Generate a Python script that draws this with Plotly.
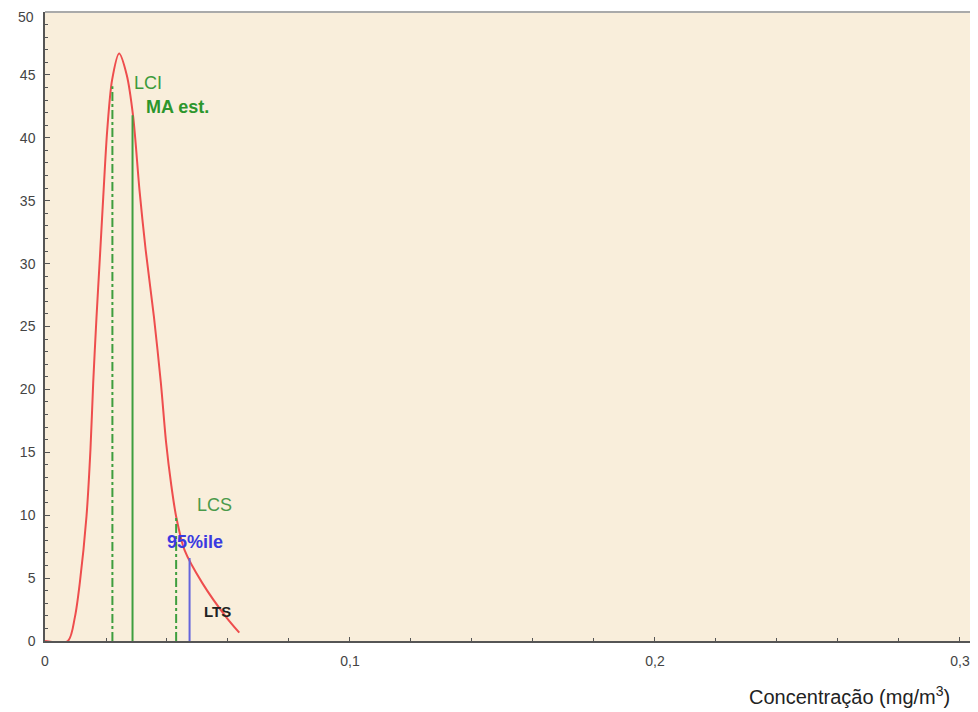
import plotly.graph_objects as go

# Density curve
curve_x = [0.0, 0.0075, 0.0098, 0.0114, 0.0136, 0.0149, 0.0158, 0.0169, 0.0180, 0.0191,
           0.0204, 0.0220, 0.0243, 0.0268, 0.0289, 0.0310, 0.0330, 0.0357, 0.0380, 0.0397,
           0.0414, 0.0430, 0.0458, 0.0516, 0.0594, 0.0637]
curve_y = [0.0, 0.0, 1.9, 4.6, 9.9, 15.2, 20.5, 25.8, 30.5, 35.3,
           40.6, 44.6, 46.7, 45.0, 41.7, 35.8, 31.1, 25.8, 20.5, 15.8,
           12.4, 9.9, 7.2, 4.6, 1.9, 0.66]

# Marker lines
marker_names = ["LCI", "MA est.", "LCS", "95%ile"]
marker_x = [0.0221, 0.0287, 0.0430, 0.0474]
marker_top = [44.1, 41.8, 9.9, 6.6]
marker_colors = ["#3e9e3e", "#3e9e3e", "#3e9e3e", "#6464dc"]
marker_dash = ["dashdot", "solid", "dashdot", "solid"]

# Labels
label_text = ["LCI", "<b>MA est.</b>", "LCS", "<b>95%ile</b>", "<b>LTS</b>"]
label_x = [0.0284, 0.0324, 0.0493, 0.0395, 0.0514]
label_y = [44.35, 42.45, 10.85, 7.85, 2.35]
label_colors = ["#3b9b3b", "#2c962c", "#4a9a4a", "#3a3ae0", "#222222"]
label_sizes = [18, 18, 18, 18, 15]

x_tickvals = [0, 0.1, 0.2, 0.3]
x_ticktext = ["0", "0,1", "0,2", "0,3"]
y_tickvals = [0, 5, 10, 15, 20, 25, 30, 35, 40, 45, 50]

fig = go.Figure()

fig.add_trace(go.Scatter(x=curve_x, y=curve_y, mode="lines",
                         line=dict(color="#ee4d4d", width=2, shape="spline", smoothing=0.8),
                         showlegend=False, hoverinfo="skip"))

for name, xv, top, col, dsh in zip(marker_names, marker_x, marker_top, marker_colors, marker_dash):
    fig.add_trace(go.Scatter(x=[xv, xv], y=[0, top], mode="lines",
                             line=dict(color=col, width=2, dash=dsh),
                             name=name, showlegend=False, hoverinfo="skip"))

for t, xv, yv, c, s in zip(label_text, label_x, label_y, label_colors, label_sizes):
    fig.add_annotation(x=xv, y=yv, text=t, showarrow=False, xanchor="left", yanchor="middle",
                       font=dict(family="Liberation Sans, Arial", size=s, color=c))

fig.add_annotation(x=0.98, y=-0.086, xref="paper", yref="paper", xanchor="right", yanchor="middle",
                   text="Concentração (mg/m<sup>3</sup>)", showarrow=False,
                   font=dict(family="Liberation Sans, Arial", size=20, color="#222222"))

# top tick label, near the page edge as in the reference
fig.add_annotation(x=0, y=y_tickvals[-1], xref="paper", yref="y", xanchor="right", yanchor="middle",
                   xshift=-9, yshift=-5, text=str(y_tickvals[-1]), showarrow=False,
                   font=dict(family="Liberation Sans, Arial", size=14, color="#444444"))

# The page body has an 8px margin, so the figure is sized and offset to compensate
fig.update_layout(
    width=970, height=704,
    margin=dict(l=37, r=8, t=4, b=71, autoexpand=False),
    paper_bgcolor="white",
    plot_bgcolor="#f9eedb",
    font=dict(family="Liberation Sans, Arial", size=14, color="#444444"),
    showlegend=False,
)

fig.update_xaxes(range=[0, 0.3033], tickvals=x_tickvals, ticktext=x_ticktext,
                 showgrid=False, zeroline=False, showline=True, linecolor="#555555", linewidth=2,
                 ticks="inside", ticklen=4, tickcolor="#555555", ticklabelstandoff=6,
                 minor=dict(dtick=0.02, ticks="inside", ticklen=3, tickcolor="#555555"),
                 tickfont=dict(size=14, color="#444444"), mirror=False)
fig.update_yaxes(range=[0, 50], tickvals=y_tickvals[:-1],
                 showgrid=False, zeroline=False, showline=True, linecolor="#555555", linewidth=1.5,
                 ticks="inside", ticklen=5, tickcolor="#555555", ticklabelstandoff=5,
                 minor=dict(dtick=1, ticks="inside", ticklen=3, tickcolor="#555555"),
                 tickfont=dict(size=14, color="#444444"))

# top border of plot area
fig.add_shape(type="line", xref="paper", yref="paper", x0=0, x1=1, y0=1, y1=1,
              line=dict(color="#aaaaaa", width=2))

fig.write_html("out.html")
